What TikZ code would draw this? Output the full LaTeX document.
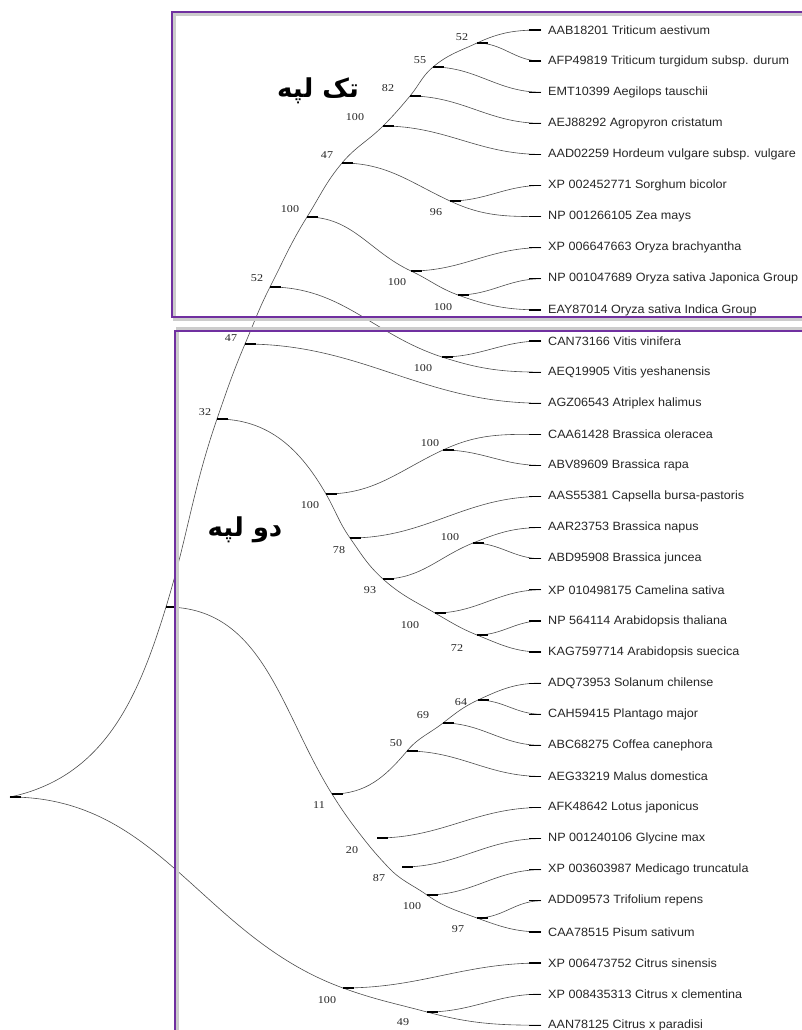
\documentclass[tikz,border=0pt]{standalone}
\usepackage{fontspec}
\setmainfont{Liberation Sans}
\newfontfamily\labfont[FakeStretch=1.05]{Liberation Sans}
\newfontfamily\bsfont[FakeStretch=1.15]{Liberation Serif}
\newfontfamily\fafont[Script=Arabic]{DejaVu Sans}
\TeXXeTstate=1
\definecolor{boxc}{RGB}{112,48,160}
\tikzset{
  br/.style={draw=black!70, line width=0.6pt},
  tk/.style={draw=black, line width=1.2pt},
  lab/.style={anchor=west, inner sep=0pt, text=black!85, font=\labfont\fontsize{12}{14}\selectfont},
  bs/.style={inner sep=0pt, text=black!85, font=\bsfont\fontsize{10.5}{12}\selectfont},
  fa/.style={inner sep=0pt, font=\fafont\bfseries\fontsize{26}{30}\selectfont},
  boxln/.style={draw=boxc, line width=2.7pt},
  boxsh/.style={draw=black!20, line width=3pt},
}
\begin{document}
\begin{tikzpicture}[x=1pt,y=-1pt]
\useasboundingbox (0,0) rectangle (802,1030);
\clip (0,0) rectangle (802,1030);
% leaves
\foreach \i/\t in {1/{AAB18201 Triticum aestivum},2/{AFP49819 Triticum turgidum subsp. durum},3/{EMT10399 Aegilops tauschii},4/{AEJ88292 Agropyron cristatum},5/{AAD02259 Hordeum vulgare subsp. vulgare},6/{XP 002452771 Sorghum bicolor},7/{NP 001266105 Zea mays},8/{XP 006647663 Oryza brachyantha},9/{NP 001047689 Oryza sativa Japonica Group},10/{EAY87014 Oryza sativa Indica Group},11/{CAN73166 Vitis vinifera},12/{AEQ19905 Vitis yeshanensis},13/{AGZ06543 Atriplex halimus},14/{CAA61428 Brassica oleracea},15/{ABV89609 Brassica rapa},16/{AAS55381 Capsella bursa-pastoris},17/{AAR23753 Brassica napus},18/{ABD95908 Brassica juncea},19/{XP 010498175 Camelina sativa},20/{NP 564114 Arabidopsis thaliana},21/{KAG7597714 Arabidopsis suecica},22/{ADQ73953 Solanum chilense},23/{CAH59415 Plantago major},24/{ABC68275 Coffea canephora},25/{AEG33219 Malus domestica},26/{AFK48642 Lotus japonicus},27/{NP 001240106 Glycine max},28/{XP 003603987 Medicago truncatula},29/{ADD09573 Trifolium repens},30/{CAA78515 Pisum sativum},31/{XP 006473752 Citrus sinensis},32/{XP 008435313 Citrus x clementina},33/{AAN78125 Citrus x paradisi}}{
  \coordinate (L\i) at (541,{30+31.1*(\i-1)});
  \node[lab] (t\i) at (548,{30+31.1*(\i-1)}) {\t};
}
% internal nodes
\coordinate (root) at (10,797);
\coordinate (nX) at (166,607);
\coordinate (n32) at (217,419);
\coordinate (n47a) at (245,344);
\coordinate (n52a) at (270,287);
\coordinate (n100a) at (307,217);
\coordinate (n47b) at (342,163);
\coordinate (n100b) at (383,126);
\coordinate (n82) at (410,96);
\coordinate (n55) at (433,67);
\coordinate (n52b) at (477,43);
\coordinate (n96) at (450,201);
\coordinate (n100c) at (411,271);
\coordinate (n100d) at (458,295);
\coordinate (n100e) at (442,357);
\coordinate (n100f) at (326,494);
\coordinate (n100g) at (443,450);
\coordinate (n78) at (350,538);
\coordinate (n93) at (383,579);
\coordinate (n100i) at (473,543);
\coordinate (n100h) at (435,613);
\coordinate (n72) at (477,635);
\coordinate (n11) at (332,794);
\coordinate (n50) at (407,751);
\coordinate (n69) at (443,723);
\coordinate (n64) at (478,700);
\coordinate (n20c) at (363,838);
\coordinate (n20) at (377,838);
\coordinate (n87c) at (388,867);
\coordinate (n87) at (402,867);
\coordinate (n100l) at (427,895);
\coordinate (n97) at (477,918);
\coordinate (ncit) at (343,988);
\coordinate (n49) at (427,1012);
% main chain
\draw[br] (root) to[out=12,in=253] (nX);
\draw[br] (nX) to[out=73,in=251] (n32);
\draw[br] (n32) to[out=71,in=247] (n47a);
\draw[br] (n47a) to[out=67,in=243] (n52a);
\draw[br] (n52a) to[out=63,in=238] (n100a);
\draw[br] (n100a) to[out=58,in=230] (n47b);
\draw[br] (n47b) to[out=50,in=225] (n100b);
\draw[br] (n100b) to[out=45,in=230] (n82);
\draw[br] (n82) to[out=50,in=220] (n55);
\draw[br] (n55) to[out=40,in=205] (n52b);
\draw[br] (n52b) to[out=25,in=180] (L1);
% monocots
\draw[br] (n52b) to[out=0,in=180] (L2);
\draw[br] (n55) to[out=0,in=180] (L3);
\draw[br] (n82) to[out=0,in=180] (L4);
\draw[br] (n100b) to[out=0,in=180] (L5);
\draw[br] (n47b) to[out=0,in=155] (n96);
\draw[br] (n96) to[out=0,in=180] (L6);
\draw[br] (n96) to[out=-25,in=180] (L7);
\draw[br] (n100a) to[out=0,in=155] (n100c);
\draw[br] (n100c) to[out=0,in=180] (L8);
\draw[br] (n100c) to[out=-25,in=160] (n100d);
\draw[br] (n100d) to[out=0,in=180] (L9);
\draw[br] (n100d) to[out=-20,in=180] (L10);
% vitis, atriplex
\draw[br] (n52a) to[out=0,in=162] (n100e);
\draw[br] (n100e) to[out=0,in=180] (L11);
\draw[br] (n100e) to[out=-18,in=180] (L12);
\draw[br] (n47a) to[out=0,in=180] (L13);
% brassicaceae
\draw[br] (n32) to[out=0,in=120] (n100f);
\draw[br] (n100f) to[out=0,in=205] (n100g);
\draw[br] (n100g) to[out=25,in=180] (L14);
\draw[br] (n100g) to[out=0,in=180] (L15);
\draw[br] (n100f) to[out=-60,in=125] (n78);
\draw[br] (n78) to[out=0,in=180] (L16);
\draw[br] (n78) to[out=-55,in=138] (n93);
\draw[br] (n93) to[out=0,in=202] (n100i);
\draw[br] (n100i) to[out=22,in=180] (L17);
\draw[br] (n100i) to[out=0,in=180] (L18);
\draw[br] (n93) to[out=-42,in=150] (n100h);
\draw[br] (n100h) to[out=0,in=180] (L19);
\draw[br] (n100h) to[out=-30,in=158] (n72);
\draw[br] (n72) to[out=0,in=180] (L20);
\draw[br] (n72) to[out=-22,in=180] (L21);
% asterids, rosids
\draw[br] (nX) to[out=0,in=122] (n11);
\draw[br] (n11) to[out=0,in=230] (n50);
\draw[br] (n50) to[out=0,in=180] (L25);
\draw[br] (n50) to[out=50,in=218] (n69);
\draw[br] (n69) to[out=0,in=180] (L24);
\draw[br] (n69) to[out=38,in=205] (n64);
\draw[br] (n64) to[out=25,in=180] (L22);
\draw[br] (n64) to[out=0,in=180] (L23);
\draw[br] (n11) to[out=-58,in=128] (n20c);
\draw[br] (n20c) to[out=-52,in=133] (n87c);
\draw[br] (n87c) to[out=-47,in=145] (n100l);
\draw[br] (n100l) to[out=-35,in=160] (n97);
\draw[br] (n97) to[out=-20,in=180] (L30);
\draw[br] (n97) to[out=0,in=180] (L29);
\draw[br] (n100l) to[out=0,in=180] (L28);
\draw[br] (n87) to[out=0,in=180] (L27);
\draw[br] (n20) to[out=0,in=180] (L26);
% citrus
\draw[br] (root) to[out=0,in=160] (ncit);
\draw[br] (ncit) to[out=0,in=180] (L31);
\draw[br] (ncit) to[out=-20,in=165] (n49);
\draw[br] (n49) to[out=0,in=180] (L32);
\draw[br] (n49) to[out=-15,in=180] (L33);
% ticks at nodes
\foreach \n in {root,nX,n32,n47a,n52a,n100a,n47b,n100b,n82,n55,n52b,n96,n100c,n100d,n100e,n100f,n100g,n78,n93,n100i,n100h,n72,n11,n50,n69,n64,n20,n87,n100l,n97,ncit,n49}{
  \draw[tk] (\n) -- ++(11,0);
}
\foreach \i in {1,...,33}{
  \draw[tk] ([xshift=-12pt]L\i) -- (L\i);
}
% bootstrap values
\node[bs] (b52b) at (462,37) {52};
\node[bs] (b55) at (420,60) {55};
\node[bs] (b82) at (388,88) {82};
\node[bs] (b100b) at (355,117) {100};
\node[bs] (b47b) at (327,155) {47};
\node[bs] (b96) at (436,212) {96};
\node[bs] (b100a) at (290,209) {100};
\node[bs] (b100c) at (397,282) {100};
\node[bs] (b100d) at (443,307) {100};
\node[bs] (b52a) at (257,278) {52};
\node[bs] (b100e) at (423,368) {100};
\node[bs] (b47a) at (231,338) {47};
\node[bs] (b32) at (205,412) {32};
\node[bs] (b100g) at (430,443) {100};
\node[bs] (b100f) at (310,505) {100};
\node[bs] (b78) at (339,550) {78};
\node[bs] (b93) at (370,590) {93};
\node[bs] (b100i) at (450,537) {100};
\node[bs] (b100h) at (410,625) {100};
\node[bs] (b72) at (457,648) {72};
\node[bs] (b64) at (461,702) {64};
\node[bs] (b69) at (423,715) {69};
\node[bs] (b50) at (396,743) {50};
\node[bs] (b11) at (319,805) {11};
\node[bs] (b20) at (352,850) {20};
\node[bs] (b87) at (379,878) {87};
\node[bs] (b100l) at (412,906) {100};
\node[bs] (b97) at (458,929) {97};
\node[bs] (bcit) at (327,1000) {100};
\node[bs] (b49) at (403,1022) {49};
% boxes
\draw[boxsh] (174,14.5) rectangle (900,319.8);
\draw[boxln] (172,12) rectangle (900,317);
\draw[boxsh] (177.5,328.2) rectangle (900,1100);
\draw[boxln] (175,331) rectangle (900,1100);
% group labels
\node[fa] (mono) at (318,91) {\beginR تک لپه\endR};
\node[fa] (dico) at (245,530) {\beginR دو لپه\endR};
\end{tikzpicture}
\end{document}
